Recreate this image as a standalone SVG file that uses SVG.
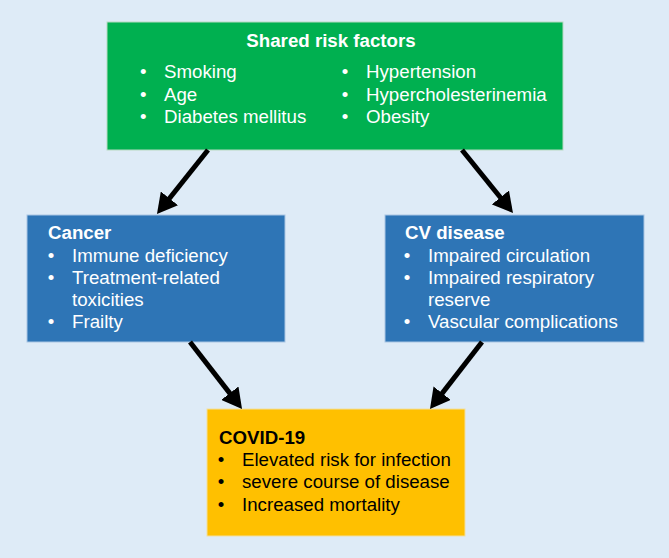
<svg xmlns="http://www.w3.org/2000/svg" width="669" height="558" viewBox="0 0 669 558">
<defs>
<style>
text{font-family:"Liberation Sans",Arial,sans-serif;font-size:18.7px}
.w{fill:#ffffff}
.k{fill:#000000}
.b{font-weight:bold}
.m{text-anchor:middle}
.conn line{stroke:#000;stroke-width:5;marker-end:url(#ah)}
</style>
<marker id="ah" markerUnits="userSpaceOnUse" markerWidth="20" markerHeight="22" refX="10" refY="11" orient="auto" viewBox="0 0 20 22">
<path d="M0,0 L20,11 L0,22 z" fill="#000"/>
</marker>
</defs>
<rect x="0" y="0" width="669" height="558" fill="#DEEBF7"/>
<g id="risk">
<rect x="107" y="22" width="456" height="128" fill="#00B050" stroke="#B8D9C2" stroke-width="1"/>
<text class="w b m" x="331" y="47">Shared risk factors</text>
<text class="w m" x="143.3" y="78">•</text><text class="w" x="164" y="78">Smoking</text>
<text class="w m" x="143.3" y="101">•</text><text class="w" x="164" y="101">Age</text>
<text class="w m" x="143.3" y="123">•</text><text class="w" x="164" y="123">Diabetes mellitus</text>
<text class="w m" x="345" y="78">•</text><text class="w" x="366" y="78">Hypertension</text>
<text class="w m" x="345" y="101">•</text><text class="w" x="366" y="101">Hypercholesterinemia</text>
<text class="w m" x="345" y="123">•</text><text class="w" x="366" y="123">Obesity</text>
</g>
<g id="cancer">
<rect x="27" y="215" width="258" height="127" fill="#2E75B6" stroke="#A9C6E3" stroke-width="1"/>
<text class="w b" x="48" y="239">Cancer</text>
<text class="w m" x="51" y="262">•</text><text class="w" x="72" y="262">Immune deficiency</text>
<text class="w m" x="51" y="284">•</text><text class="w" x="72" y="284">Treatment-related</text>
<text class="w" x="72" y="306">toxicities</text>
<text class="w m" x="51" y="328">•</text><text class="w" x="72" y="328">Frailty</text>
</g>
<g id="cv">
<rect x="385" y="215" width="259" height="127" fill="#2E75B6" stroke="#A9C6E3" stroke-width="1"/>
<text class="w b" x="405" y="239">CV disease</text>
<text class="w m" x="407" y="262">•</text><text class="w" x="428" y="262">Impaired circulation</text>
<text class="w m" x="407" y="284">•</text><text class="w" x="428" y="284">Impaired respiratory</text>
<text class="w" x="428" y="306">reserve</text>
<text class="w m" x="407" y="328">•</text><text class="w" x="428" y="328">Vascular complications</text>
</g>
<g id="covid">
<rect x="207" y="409" width="258" height="127" fill="#FFC000" stroke="#F2DFA0" stroke-width="1"/>
<text class="k b" x="219" y="444">COVID-19</text>
<text class="k m" x="221" y="466">•</text><text class="k" x="242" y="466">Elevated risk for infection</text>
<text class="k m" x="221" y="488">•</text><text class="k" x="242" y="488">severe course of disease</text>
<text class="k m" x="221" y="511">•</text><text class="k" x="242" y="511">Increased mortality</text>
</g>
<g id="connectors" class="conn">
<line x1="208" y1="150" x2="163.2" y2="206.2"/>
<line x1="462" y1="150" x2="506.7" y2="205.2"/>
<line x1="190" y1="342" x2="235.9" y2="401.1"/>
<line x1="482" y1="342" x2="436.1" y2="401.1"/>
</g>
</svg>
